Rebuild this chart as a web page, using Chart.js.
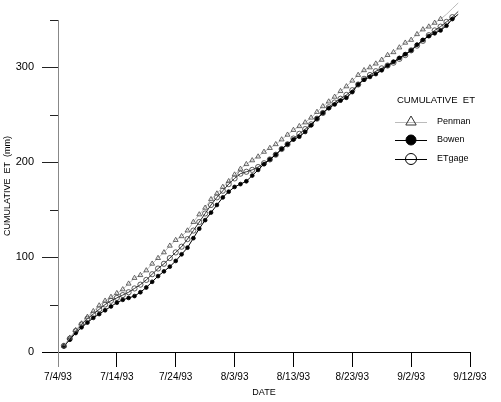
<!DOCTYPE html>
<html>
<head>
<meta charset="utf-8">
<script src="https://cdn.jsdelivr.net/npm/chart.js@4.4.0/dist/chart.umd.min.js"></script>
<style>
  html, body { margin: 0; padding: 0; background: #fff; }
  #wrap { width: 501px; height: 402px; }
</style>
</head>
<body>
<div id="wrap"><canvas id="et" width="501" height="402"></canvas></div>
<script>
// days after 7/4/93
const days = [1,2,3,4,5,6,7,8,9,10,11,12,13,14,15,16,17,18,19,20,
  21,22,23,24,25,26,27,28,29,30,31,32,33,34,35,36,37,38,39,40,
  41,42,43,44,45,46,47,48,49,50,51,52,53,54,55,56,57,58,59,60,
  61,62,63,64,65,66,67,68];

const penman = [6.5,15,23,30,37,43,49,54,58,62,66,72,78,81,86,93,99,105,112,118,
  122,128,137,145,152,161,167,174,180,187,193,198,202,206,211,215,219,224,229,234,
  238,242,247,253,259,264,269,275,280,286,292,297,300,304,308,313,316,321,326,329,
  335,340,343,347,351,356,362,368];

const bowen = [6,13,20,26,31,36,40,44,48,52,55,57,59,63,68,74,80,85,90,96,
  103,110,120,130,139,147,155,163,169,174,177,180,186,192,198,203,208,214,219,224,
  227,232,239,246,252,257,261,265,268,274,282,287,290,293,297,302,306,310,314,318,
  324,329,333,336,339,344,351,356];

const etgage = [6.5,14,22,29,35,40,45,50,54,57,60,63,67,71,76,82,88,93,99,105,
  111,119,128,137,146,155,163,170,177,183,188,190,192,195,199,203,208,214,219,225,
  230,235,240,246,252,258,263,267,271,276,282,288,292,296,299,302,305,309,313,318,
  323,328,334,339,343,348,353,359];

const dateLabels = ["7/4/93","7/14/93","7/24/93","8/3/93","8/13/93","8/23/93","9/2/93","9/12/93"];
const yTicks = [0, 100, 200, 300];
const yMinor = [50, 150, 250, 350];

function pts(vals) {
  return days.map((d, i) => ({ x: d, y: vals[i] }));
}

const axisExtras = {
  id: "axisExtras",
  afterDraw(chart) {
    const c = chart.ctx;
    const xs = chart.scales.x, ys = chart.scales.y;
    const x0 = xs.getPixelForValue(0), y0 = ys.getPixelForValue(0);
    c.save();
    // minor y ticks
    c.strokeStyle = "#222";
    c.lineWidth = 1;
    yMinor.forEach(v => {
      const py = Math.round(ys.getPixelForValue(v)) + 0.5;
      c.beginPath(); c.moveTo(x0 - 8, py); c.lineTo(x0, py); c.stroke();
    });
    // axis overhangs
    c.strokeStyle = "#000";
    c.beginPath(); c.moveTo(x0 - 16, Math.round(y0) + 0.5); c.lineTo(x0, Math.round(y0) + 0.5); c.stroke();
    c.strokeStyle = "#888";
    c.beginPath(); c.moveTo(Math.round(x0) + 0.5, y0); c.lineTo(Math.round(x0) + 0.5, y0 + 15); c.stroke();

    // legend
    const lx = 395, tx = 437;
    c.fillStyle = "#000";
    c.font = "9.5px 'Liberation Sans', Arial, sans-serif";
    c.textBaseline = "middle";
    c.fillText("CUMULATIVE  ET", 397, 100);
    const rows = [
      { y: 122, text: "Penman", line: "#bbb", style: "triangle", r: 6, fill: "rgba(0,0,0,0)", stroke: "#333" },
      { y: 140, text: "Bowen", line: "#000", style: "circle", r: 5, fill: "#000", stroke: "#000" },
      { y: 159, text: "ETgage", line: "#000", style: "circle", r: 5.5, fill: "rgba(0,0,0,0)", stroke: "#000" }
    ];
    rows.forEach(r => {
      c.strokeStyle = r.line;
      c.lineWidth = 1;
      c.beginPath(); c.moveTo(lx, r.y + 0.5); c.lineTo(lx + 32, r.y + 0.5); c.stroke();
      c.fillStyle = r.fill;
      c.strokeStyle = r.stroke;
      c.lineWidth = 1;
      Chart.helpers.drawPoint(c, { pointStyle: r.style, radius: r.r, borderWidth: 1 }, lx + 16, r.y);
      c.fillStyle = "#000";
      c.font = "9px 'Liberation Sans', Arial, sans-serif";
      c.fillText(r.text, tx, r.y);
    });
    c.restore();
  }
};

const ctx = document.getElementById("et").getContext("2d");
const chart = new Chart(ctx, {
  type: "line",
  data: {
    datasets: [
      {
        label: "Penman",
        data: pts(penman),
        borderColor: "#bbb",
        borderWidth: 1,
        pointStyle: "triangle",
        pointRadius: 2.8,
        pointBorderColor: "#444",
        pointBackgroundColor: "rgba(0,0,0,0)",
        pointBorderWidth: 0.8,
        clip: false
      },
      {
        label: "Bowen",
        data: pts(bowen),
        borderColor: "#000",
        borderWidth: 1,
        pointStyle: "circle",
        pointRadius: 1.9,
        pointBorderColor: "#000",
        pointBackgroundColor: "#000",
        pointBorderWidth: 0.8,
        clip: false
      },
      {
        label: "ETgage",
        data: pts(etgage),
        borderColor: "#333",
        borderWidth: 1,
        pointStyle: "circle",
        pointRadius: 2.6,
        pointBorderColor: "#333",
        pointBackgroundColor: "rgba(0,0,0,0)",
        pointBorderWidth: 0.8,
        clip: false
      }
    ]
  },
  options: {
    responsive: false,
    animation: false,
    layout: { padding: { top: 20, right: 31, left: 0, bottom: 0 } },
    plugins: { legend: { display: false }, tooltip: { enabled: false } },
    scales: {
      x: {
        type: "linear",
        min: 0,
        max: 70,
        afterBuildTicks: s => { s.ticks = dateLabels.map((_, i) => ({ value: i * 10 })); },
        afterFit: s => { s.height = 50; },
        ticks: {
          callback: (v, i) => dateLabels[i],
          font: { family: "'Liberation Sans', Arial, sans-serif", size: 10 },
          color: "#000",
          padding: 4,
          maxRotation: 0,
          autoSkip: false
        },
        grid: { drawOnChartArea: false, tickLength: 15, color: "#000" },
        border: { color: "#000" },
        title: {
          display: true,
          text: "DATE",
          font: { family: "'Liberation Sans', Arial, sans-serif", size: 9 },
          color: "#000",
          padding: { top: 0, bottom: 4 }
        }
      },
      y: {
        min: 0,
        max: 350,
        afterBuildTicks: s => { s.ticks = yTicks.map(v => ({ value: v })); },
        afterFit: s => { s.width = 58; },
        ticks: {
          font: { family: "'Liberation Sans', Arial, sans-serif", size: 11 },
          color: "#000",
          padding: 8
        },
        grid: { drawOnChartArea: false, tickLength: 16, color: "#222" },
        border: { color: "#888" },
        title: {
          display: true,
          text: "CUMULATIVE  ET  (mm)",
          font: { family: "'Liberation Sans', Arial, sans-serif", size: 9 },
          color: "#000",
          padding: { top: 2, bottom: 0 }
        }
      }
    }
  },
  plugins: [axisExtras]
});
</script>
</body>
</html>
